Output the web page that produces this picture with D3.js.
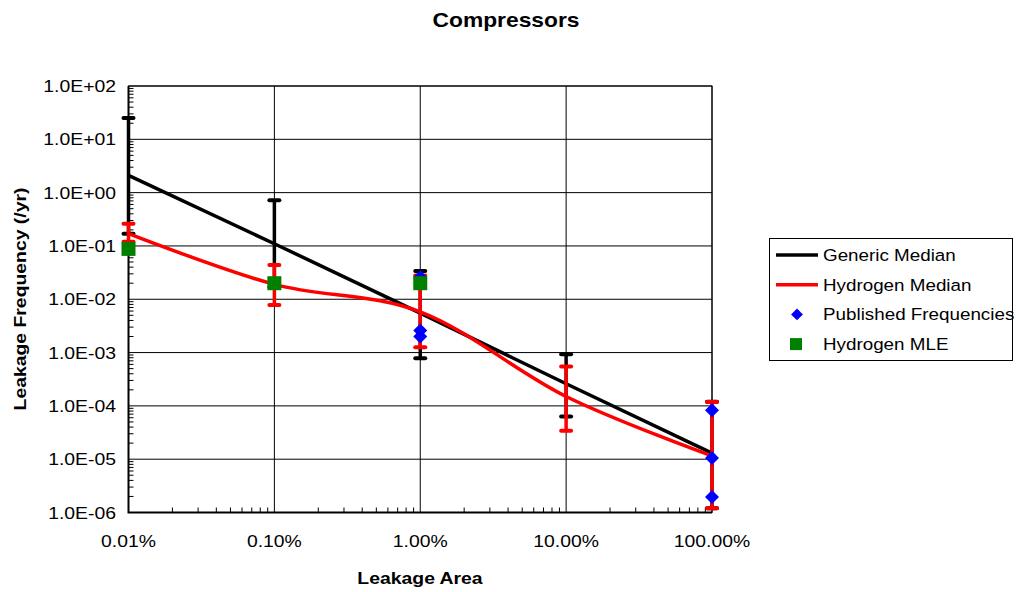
<html>
<head>
<title>Compressors</title>
<script src="https://d3js.org/d3.v7.min.js"></script>
<style>
  body { margin: 0; background: #fff; }
  text { font-family: "Liberation Sans", Arial, sans-serif; fill: #000; }
</style>
</head>
<body>
<div id="container"></div>
<script>
// leakage area as fraction of flow area
const areas = [0.0001, 0.001, 0.01, 0.1, 1]
const areaLabels = ['0.01%', '0.10%', '1.00%', '10.00%', '100.00%']

const genericMedian = [2.1, 0.11, 5.5e-3, 2.6e-4, 1.3e-5]
const genericLower = [0.17, 0.017, 7.8e-4, 6.3e-5, 1.2e-6]
const genericUpper = [25, 0.72, 0.034, 9.3e-4, 1.2e-4]

const hydrogenMedian = [0.17, 0.019, 5.8e-3, 1.5e-4, 1.15e-5]
const hydrogenLower = [0.12, 7.8e-3, 1.26e-3, 3.4e-5, 1.2e-6]
const hydrogenUpper = [0.26, 0.044, 0.028, 5.5e-4, 1.18e-4]

const publishedArea = [0.01, 0.01, 0.01, 1, 1, 1]
const publishedFreq = [0.026, 2.6e-3, 2.0e-3, 8.3e-5, 1.05e-5, 1.95e-6]

const mleArea = [0.0001, 0.001, 0.01]
const mleFreq = [0.088, 0.02, 0.02]

const yTicks = [1e2, 1e1, 1e0, 1e-1, 1e-2, 1e-3, 1e-4, 1e-5, 1e-6]

const width = 1016, height = 592
const plot = { left: 128.5, right: 712, top: 86, bottom: 512.5 }
const stretch = 1.14

const svg = d3.select('#container').append('svg')
    .attr('width', width)
    .attr('height', height)

const x = d3.scaleLog().domain([0.0001, 1]).range([plot.left, plot.right])
const y = d3.scaleLog().domain([1e-6, 1e2]).range([plot.bottom, plot.top])

// text helper, glyphs in the original are a bit wider than tall
const label = (g, tx, ty, str, opts = {}) => {
    const rot = opts.rotate ? ` rotate(${opts.rotate})` : ''
    return g.append('text')
        .attr('transform', `translate(${tx},${ty})${rot} scale(${stretch},1)`)
        .attr('text-anchor', opts.anchor || 'start')
        .style('font-size', (opts.size || 17) + 'px')
        .style('font-weight', opts.bold ? 'bold' : 'normal')
        .text(str)
}

// gridlines
const grid = svg.append('g')
grid.selectAll('.gy').data(yTicks).enter().append('line')
    .attr('x1', plot.left).attr('x2', plot.right)
    .attr('y1', d => y(d)).attr('y2', d => y(d))
    .attr('stroke', '#000').attr('stroke-width', 1)
grid.selectAll('.gx').data(areas).enter().append('line')
    .attr('y1', plot.top).attr('y2', plot.bottom)
    .attr('x1', d => x(d)).attr('x2', d => x(d))
    .attr('stroke', '#000').attr('stroke-width', 1)

// minor ticks inside the plot
const minorX = [], minorY = []
areas.slice(0, -1).forEach(a => { for (let k = 2; k < 10; k++) minorX.push(a * k) })
yTicks.slice(1).forEach(v => { for (let k = 2; k < 10; k++) minorY.push(v * k) })
grid.selectAll('.mx').data(minorX).enter().append('line')
    .attr('x1', d => x(d)).attr('x2', d => x(d))
    .attr('y1', plot.bottom).attr('y2', plot.bottom - 5)
    .attr('stroke', '#000')
grid.selectAll('.my').data(minorY).enter().append('line')
    .attr('y1', d => y(d)).attr('y2', d => y(d))
    .attr('x1', plot.left).attr('x2', plot.left + 5)
    .attr('stroke', '#000')

// frame
svg.append('rect')
    .attr('x', plot.left).attr('y', plot.top)
    .attr('width', plot.right - plot.left).attr('height', plot.bottom - plot.top)
    .attr('fill', 'none').attr('stroke', '#000').attr('stroke-width', 1)
svg.append('path')
    .attr('d', `M${plot.left},${plot.top}V${plot.bottom}H${plot.right}`)
    .attr('fill', 'none').attr('stroke', '#000').attr('stroke-width', 2)

// tick labels
yTicks.forEach(v => {
    const e = Math.round(Math.log10(v))
    const s = '1.0E' + (e < 0 ? '-' : '+') + String(Math.abs(e)).padStart(2, '0')
    label(svg, 116, y(v) + 6, s, { anchor: 'end' })
})
areas.forEach((a, i) => label(svg, x(a), 547, areaLabels[i], { anchor: 'middle' }))

// titles
label(svg, 506, 27, 'Compressors', { anchor: 'middle', size: 20, bold: true })
label(svg, 420, 584, 'Leakage Area', { anchor: 'middle', bold: true })
svg.append('text')
    .attr('transform', `translate(26,299) rotate(-90) scale(${stretch},1)`)
    .attr('text-anchor', 'middle')
    .style('font-size', '17px').style('font-weight', 'bold')
    .text('Leakage Frequency (/yr)')

// error bars
const errorBars = (lo, hi, color) => {
    const g = svg.append('g').attr('stroke', color).attr('stroke-linecap', 'round')
    const d = areas.map((a, i) => ({ a, lo: lo[i], hi: hi[i] }))
    g.selectAll('.bar').data(d).enter().append('line')
        .attr('x1', d => x(d.a)).attr('x2', d => x(d.a))
        .attr('y1', d => y(d.lo)).attr('y2', d => y(d.hi))
        .attr('stroke-width', 3.5)
    const caps = d.flatMap(e => [{ a: e.a, v: e.lo }, { a: e.a, v: e.hi }])
    g.selectAll('.cap').data(caps).enter().append('line')
        .attr('x1', d => x(d.a) - 5).attr('x2', d => x(d.a) + 5)
        .attr('y1', d => y(d.v)).attr('y2', d => y(d.v))
        .attr('stroke-width', 4)
}

const genericLine = d3.line().x((d, i) => x(areas[i])).y(d => y(d))
const hydrogenLine = d3.line().x((d, i) => x(areas[i])).y(d => y(d)).curve(d3.curveCardinal.tension(0))

errorBars(genericLower, genericUpper, '#000')
svg.append('path').datum(genericMedian)
    .attr('d', genericLine)
    .attr('fill', 'none').attr('stroke', '#000').attr('stroke-width', 3.5)

errorBars(hydrogenLower, hydrogenUpper, '#ff0000')
svg.append('path').datum(hydrogenMedian)
    .attr('d', hydrogenLine)
    .attr('fill', 'none').attr('stroke', '#ff0000').attr('stroke-width', 3.5)

// published frequencies
const diamond = d3.symbol().type(d3.symbolDiamond2).size(125)
svg.append('g').selectAll('path')
    .data(publishedArea.map((a, i) => ({ a, v: publishedFreq[i] })))
    .enter().append('path')
    .attr('d', diamond)
    .attr('transform', d => `translate(${x(d.a)},${y(d.v)})`)
    .attr('fill', '#0000ff')

// hydrogen MLE
svg.append('g').selectAll('rect')
    .data(mleArea.map((a, i) => ({ a, v: mleFreq[i] })))
    .enter().append('rect')
    .attr('x', d => x(d.a) - 7).attr('y', d => y(d.v) - 7)
    .attr('width', 14).attr('height', 14)
    .attr('fill', '#008000')

// legend
const legendItems = ['Generic Median', 'Hydrogen Median', 'Published Frequencies', 'Hydrogen MLE']
const legend = svg.append('g')
legend.append('rect')
    .attr('x', 769.5).attr('y', 238.5).attr('width', 243).attr('height', 122)
    .attr('fill', '#fff').attr('stroke', '#000')
legendItems.forEach((name, i) => {
    const ly = 255 + i * 29.7
    if (i === 0 || i === 1) {
        legend.append('line')
            .attr('x1', 776).attr('x2', 818).attr('y1', ly).attr('y2', ly)
            .attr('stroke', i === 0 ? '#000' : '#ff0000').attr('stroke-width', 3.5)
    } else if (i === 2) {
        legend.append('path').attr('d', d3.symbol().type(d3.symbolDiamond2).size(90))
            .attr('transform', `translate(797,${ly})`).attr('fill', '#0000ff')
    } else {
        legend.append('rect')
            .attr('x', 790).attr('y', ly - 6).attr('width', 12).attr('height', 12)
            .attr('fill', '#008000')
    }
    label(legend, 823, ly + 6, name, { size: 16.5 })
})
</script>
</body>
</html>
